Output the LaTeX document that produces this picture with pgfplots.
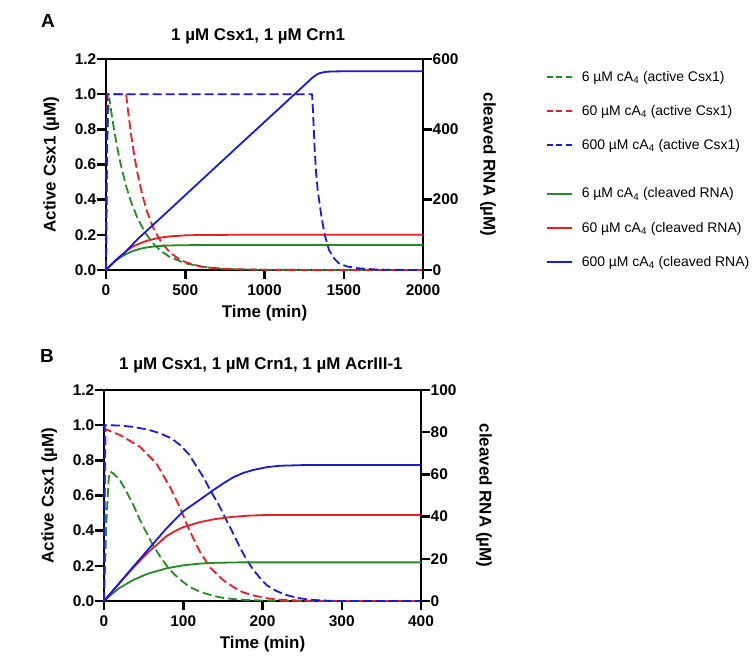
\documentclass[border=0pt]{standalone}
\usepackage{fontspec}
\setmainfont{Liberation Sans}
\usepackage{pgfplots}
\pgfplotsset{compat=1.18}
\definecolor{cgreen}{RGB}{34,139,34}
\definecolor{cred}{RGB}{232,28,36}
\definecolor{cblue}{RGB}{25,25,215}
\pgfplotsset{
  base/.style={scale only axis, width=317bp, height=211bp, anchor=south west,
    tick align=outside, major tick length=9bp,
    separate axis lines,
    axis line style={line width=2.8bp, line cap=rect},
    major tick style={line width=2.5bp, black},
    ticklabel style={font=\bfseries\fontsize{15.5}{17}\selectfont},
    xticklabel style={yshift=-2bp},
    label style={font=\bfseries\fontsize{17}{20}\selectfont},
    title style={font=\bfseries\fontsize{17}{20}\selectfont},
    every axis title shift=0pt,
    /pgf/number format/assume math mode=true,
    /pgf/number format/1000 sep={},
    clip=false,
    every axis plot/.append style={line width=1.8bp, line join=round},
  },
  leftax/.style={base, xtick pos=left, ytick pos=left, ymin=0, ymax=1.2,
    ytick={0,0.2,0.4,0.6,0.8,1.0,1.2},
    yticklabel style={inner xsep=0.5bp, /pgf/number format/.cd, fixed, fixed zerofill, precision=1},
    ylabel={Active Csx1 (µM)},
    ylabel style={at={(axis description cs:-0.173,0.5)}, anchor=center},
    xlabel={Time (min)},
    xlabel style={at={(axis description cs:0.5,-0.204)}, anchor=center}},
  rightax/.style={base, axis x line=none, axis y line*=right,
    yticklabel style={inner xsep=0.5bp},
    ylabel={cleaved RNA (µM)}},
  leg/.style={legend style={draw=none, at={#1}, anchor=north west,
    row sep=18.5bp, column sep=7bp, font=\fontsize{14}{16}\selectfont},
    legend cell align=left,
    legend image code/.code={\draw[##1] (0bp,0bp) -- (25bp,0bp);}},
  dsh/.style={dash pattern=on 9bp off 4bp},
}
\begin{document}
\begin{tikzpicture}
\path[use as bounding box] (0bp,0bp) rectangle (754bp,658bp);
\node[font=\bfseries\fontsize{19}{22}\selectfont] at (48bp,637bp) {A};
\node[font=\bfseries\fontsize{19}{22}\selectfont] at (47bp,302bp) {B};
% ---------------- Panel A ----------------
\begin{axis}[leftax, at={(106bp,388bp)}, xmin=0, xmax=2000, xtick={0,500,1000,1500,2000},
  title={1 µM Csx1, 1 µM Crn1},
  title style={at={(axis description cs:0.48,1.109)}, anchor=center},
  leg={(axis description cs:1.378,0.961)}]
\addlegendimage{line width=1.8bp, draw=cgreen, dash pattern=on 6bp off 3.5bp}
\addlegendentry{6 µM cA\textsubscript{4} (active Csx1)}
\addlegendimage{line width=1.8bp, draw=cred, dash pattern=on 6bp off 3.5bp}
\addlegendentry{60 µM cA\textsubscript{4} (active Csx1)}
\addlegendimage{line width=1.8bp, draw=cblue, dash pattern=on 6bp off 3.5bp}
\addlegendentry{600 µM cA\textsubscript{4} (active Csx1)}
\addplot[color=cgreen, dsh, forget plot] coordinates {(0,0)(3,0.3)(8,0.7)(14,0.9)(21,0.977)(40,0.859)(60,0.751)(80,0.656)(100,0.573)(130,0.468)(160,0.382)(200,0.292)(250,0.208)(300,0.148)(350,0.106)(400,0.075)(500,0.038)(600,0.020)(700,0.010)(800,0.005)(1000,0.001)(1500,0)(2000,0)};
\addplot[color=cred, dsh, forget plot] coordinates {(0,0)(4,0.6)(8,1.0)(127,1.0)(140,0.897)(160,0.760)(180,0.643)(200,0.544)(230,0.424)(260,0.330)(300,0.237)(350,0.156)(400,0.103)(450,0.068)(500,0.045)(600,0.019)(700,0.008)(800,0.004)(1000,0.001)(1500,0)(2000,0)};
\addplot[color=cblue, dsh, forget plot] coordinates {(0,0)(4,0.6)(10,1.0)(1300,1.0)(1305,0.92)(1310,0.82)(1317,0.68)(1325,0.56)(1335,0.46)(1344,0.40)(1360,0.30)(1380,0.20)(1407,0.114)(1440,0.065)(1470,0.038)(1520,0.020)(1587,0.010)(1700,0.003)(1800,0.001)(2000,0)};
\end{axis}
\begin{axis}[rightax, at={(106bp,388bp)}, xmin=0, xmax=2000, ymin=0, ymax=600, ytick={0,200,400,600},
  ylabel style={at={(axis description cs:1.205,0.5)}, anchor=center, rotate=180},
  leg={(axis description cs:1.378,0.409)}]
\addlegendimage{line width=1.8bp, draw=cgreen, solid}
\addlegendentry{6 µM cA\textsubscript{4} (cleaved RNA)}
\addlegendimage{line width=1.8bp, draw=cred, solid}
\addlegendentry{60 µM cA\textsubscript{4} (cleaved RNA)}
\addlegendimage{line width=1.8bp, draw=cblue, solid}
\addlegendentry{600 µM cA\textsubscript{4} (cleaved RNA)}
\addplot[color=cgreen, forget plot] coordinates {(0,0)(15,7)(30,13.5)(60,26)(90,35.5)(120,43.5)(150,50)(180,55.5)(220,61)(260,64.5)(330,68)(400,69.8)(500,70.6)(700,71)(2000,71)};
\addplot[color=cred, forget plot] coordinates {(0,0)(30,14)(60,27)(90,39)(120,50)(127,53)(140,58)(172,67)(200,73)(250,82)(300,88)(350,92.5)(400,95.5)(500,98.5)(600,99.6)(800,100)(2000,100)};
\addplot[color=cblue, forget plot] coordinates {(0,0)(30,14)(60,27)(90,39)(120,50)(200,88)(400,171)(800,338)(1200,504)(1300,546)(1315,551)(1330,556)(1350,560)(1380,563)(1420,564.5)(1500,565)(2000,565)};
\end{axis}
% ---------------- Panel B ----------------
\begin{axis}[leftax, at={(104bp,57bp)}, xmin=0, xmax=400, xtick={0,100,200,300,400},
  title={1 µM Csx1, 1 µM Crn1, 1 µM AcrIII-1},
  title style={at={(axis description cs:0.495,1.118)}, anchor=center}]
\addplot[color=cgreen, dsh] coordinates {(0,0)(3,0.45)(6,0.70)(8,0.736)(12,0.725)(20,0.688)(28,0.625)(37,0.546)(45,0.465)(54,0.385)(62,0.315)(71,0.252)(80,0.195)(88,0.155)(98,0.115)(108,0.080)(120,0.055)(130,0.040)(145,0.022)(155,0.015)(170,0.008)(190,0.004)(220,0.001)(260,0)(400,0)};
\addplot[color=cred, dsh] coordinates {(0,0)(1,0.6)(2,0.977)(20,0.944)(45,0.878)(66,0.783)(83,0.65)(96,0.53)(108,0.40)(121,0.28)(134,0.19)(150,0.12)(163,0.08)(175,0.05)(188,0.032)(205,0.016)(222,0.007)(250,0.002)(300,0)(400,0)};
\addplot[color=cblue, dsh] coordinates {(0,0)(1,1.0)(20,0.998)(37,0.99)(55,0.975)(70,0.955)(85,0.925)(96,0.887)(107,0.835)(117,0.764)(126,0.70)(134,0.631)(145,0.545)(155,0.455)(164,0.375)(172,0.30)(180,0.235)(188,0.18)(197,0.13)(205,0.091)(217,0.058)(230,0.034)(245,0.017)(260,0.007)(280,0.002)(300,0)(400,0)};
\end{axis}
\begin{axis}[rightax, at={(104bp,57bp)}, xmin=0, xmax=400, ymin=0, ymax=100, ytick={0,20,40,60,80,100},
  ylabel style={at={(axis description cs:1.199,0.5)}, anchor=center, rotate=180}]
\addplot[color=cgreen] coordinates {(0,0)(10,3.3)(20,6.3)(37,10)(55,12.9)(79,15.5)(100,16.9)(120,17.7)(140,18.1)(170,18.3)(400,18.3)};
\addplot[color=cred] coordinates {(0,0)(20,8.6)(37,15.8)(55,22.8)(70,27.8)(79,30.8)(90,33.2)(100,35)(121,37.4)(140,38.8)(160,39.8)(180,40.4)(200,40.7)(250,40.8)(400,40.8)};
\addplot[color=cblue] coordinates {(0,0)(20,8.8)(37,16.3)(60,26.2)(79,34.5)(100,42.5)(121,48)(138,52.6)(150,55.6)(163,58.6)(175,60.6)(188,62.1)(205,63.4)(222,64.1)(250,64.4)(300,64.5)(400,64.5)};
\end{axis}
\end{tikzpicture}
\end{document}
